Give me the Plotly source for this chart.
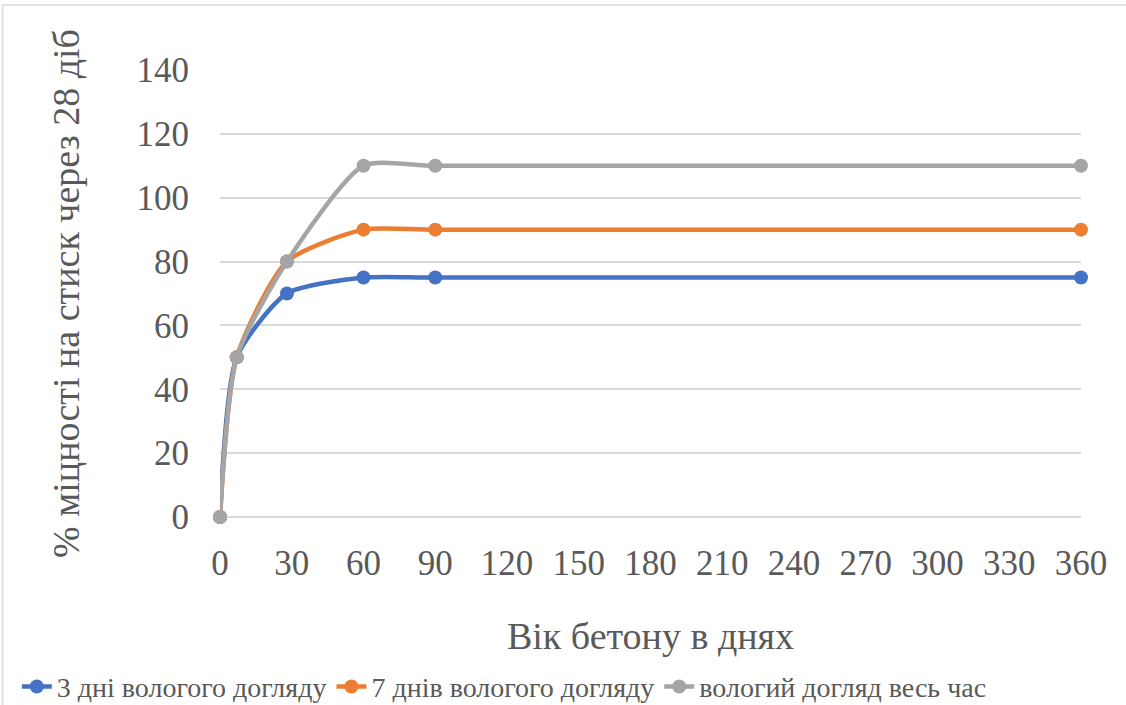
import plotly.graph_objects as go

# Age of concrete, days
days = [0, 7, 28, 60, 90, 360]

# Compressive strength, % of 28-day strength
moist_3_days = [0, 50, 70, 75, 75, 75]
moist_7_days = [0, 50, 80, 90, 90, 90]
moist_always = [0, 50, 80, 110, 110, 110]

series_names = [
    "3 дні вологого догляду",
    "7 днів вологого догляду",
    "вологий догляд весь час",
]
series_colors = ["#4472C4", "#ED7D31", "#A5A5A5"]

x_ticks = list(range(0, 361, 30))
y_ticks = list(range(0, 141, 20))

FONT = "Liberation Serif"
TEXT_COLOR = "#595959"

fig = go.Figure()
for name, values, color in zip(series_names, [moist_3_days, moist_7_days, moist_always], series_colors):
    fig.add_trace(go.Scatter(
        x=days, y=values, name=name,
        mode="lines+markers",
        line=dict(color=color, width=4.5, shape="spline", smoothing=0.65),
        marker=dict(color=color, size=14),
        cliponaxis=False,
    ))

fig.update_layout(
    width=1126, height=705,
    margin=dict(l=220, r=45, t=70, b=188, autoexpand=False),
    paper_bgcolor="white", plot_bgcolor="white",
    font=dict(family=FONT, color=TEXT_COLOR),
    showlegend=True,
    legend=dict(
        orientation="h", x=-0.236, xanchor="left", y=-0.38, yanchor="middle",
        font=dict(size=28, family=FONT, color=TEXT_COLOR),
        itemwidth=30, tracegroupgap=0,
    ),
    xaxis=dict(
        range=[0, 360], tickvals=x_ticks, ticktext=[str(v) for v in x_ticks],
        showgrid=False, zeroline=False, showline=False, automargin=False,
        tickfont=dict(size=35, family=FONT, color=TEXT_COLOR),
        ticks="", ticklabelstandoff=22,
        title=dict(text="Вік бетону в днях", font=dict(size=38, family=FONT, color=TEXT_COLOR), standoff=40),
    ),
    yaxis=dict(
        range=[0, 140], tickvals=y_ticks, ticktext=[str(v) for v in y_ticks],
        showgrid=True, gridcolor="#D9D9D9", gridwidth=1.5,
        zeroline=True, zerolinecolor="#D9D9D9", zerolinewidth=1.5,
        showline=False, automargin=False,
        tickfont=dict(size=35, family=FONT, color=TEXT_COLOR),
        ticks="", ticklabelstandoff=30,
        title=dict(text="% міцності на стиск через 28 діб", font=dict(size=38, family=FONT, color=TEXT_COLOR), standoff=45),
    ),
)

# chart outline
fig.add_shape(
    type="rect", xref="paper", yref="paper",
    x0=-0.2526, x1=1.2, y0=-1.0, y1=1.1454,
    line=dict(color="#D9D9D9", width=1.5), fillcolor="rgba(0,0,0,0)", layer="below",
)

fig.write_html("out.html")
